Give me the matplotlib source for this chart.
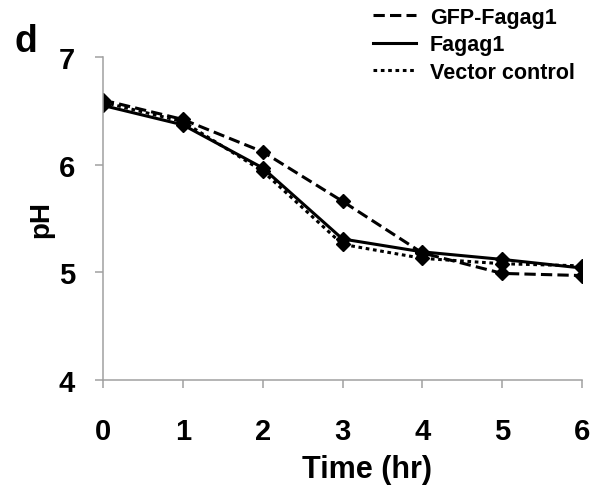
import matplotlib
matplotlib.use("Agg")
import matplotlib.pyplot as plt

plt.rcParams['font.family'] = ['Liberation Sans', 'DejaVu Sans']
plt.rcParams['font.weight'] = 'bold'

# --- data ---
time_hr = [0, 1, 2, 3, 4, 5, 6]
gfp_fagag1 = [6.60, 6.42, 6.12, 5.66, 5.18, 4.99, 4.97]
fagag1 = [6.55, 6.37, 5.97, 5.31, 5.19, 5.12, 5.04]
vector_control = [6.58, 6.40, 5.94, 5.26, 5.13, 5.08, 5.06]

fig = plt.figure(figsize=(6.02, 4.89), dpi=100)
ax = fig.add_axes([103 / 602, 1 - 381 / 489, 479 / 602, 323 / 489])

ax.plot(time_hr, gfp_fagag1, color='black', ls=(0, (3.7, 1.7)), lw=2.2,
        marker='D', ms=7, label='GFP-Fagag1')
ax.plot(time_hr, fagag1, color='black', ls='-', lw=2.2,
        marker='D', ms=7, label='Fagag1')
ax.plot(time_hr, vector_control, color='black', ls=(0, (1.2, 1.2)), lw=2.2,
        marker='D', ms=7, label='Vector control')

ax.set_xlim(0, 6)
ax.set_ylim(4, 7)
ax.set_xticks(range(7))
ax.set_yticks([4, 5, 6, 7])
for s in ['top', 'right']:
    ax.spines[s].set_visible(False)
for s in ['left', 'bottom']:
    ax.spines[s].set_color('#a0a0a0')
    ax.spines[s].set_linewidth(1.1)
ax.tick_params(colors='#a0a0a0', width=1.1, length=6, labelcolor='black',
               labelsize=21)
ax.tick_params(axis='x', pad=21)
ax.tick_params(axis='y', pad=14)
for lab in ax.get_xticklabels() + ax.get_yticklabels():
    lab.set_fontweight('bold')

ax.set_xlabel('Time (hr)', fontsize=22, fontweight='bold')
ax.xaxis.set_label_coords(0.551, -0.228)
ax.set_ylabel('pH', fontsize=20, fontweight='bold')
ax.yaxis.set_label_coords(-0.102, 0.5)

leg = fig.legend(handles=[l for l in ax.get_lines()], loc='upper left',
                 bbox_to_anchor=(373 / 602, 1 - 8 / 489), frameon=False,
                 borderpad=0, borderaxespad=0,
                 prop={'size': 15.5, 'weight': 'bold'}, handlelength=2.0,
                 labelspacing=0.3, handletextpad=0.65)
for h in leg.legend_handles:
    h.set_marker('')

fig.text(15 / 602, 1 - 52 / 489, 'd', fontsize=27, fontweight='bold')

fig.savefig('out.png', dpi=100)
